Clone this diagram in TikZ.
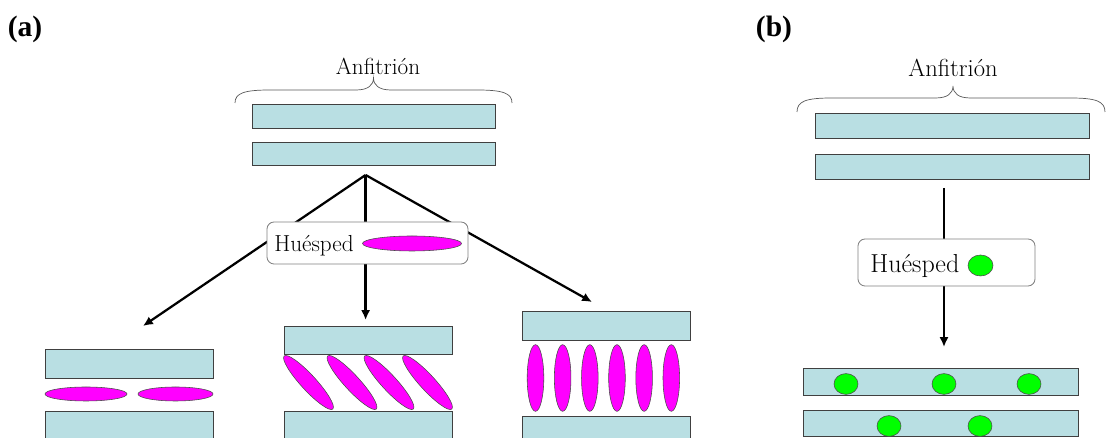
\documentclass[tikz,border=0pt]{standalone}
\usepackage{fontspec}
\newfontfamily\tagfont{Liberation Serif}
\usepackage{tikz}
\usetikzlibrary{arrows.meta,positioning}

\definecolor{hostfill}{HTML}{B9DFE3}
\definecolor{hostline}{HTML}{404040}
\definecolor{rodfill}{HTML}{FF00FF}
\definecolor{ballfill}{HTML}{00FF00}

\begin{document}
\begin{tikzpicture}[
  host/.style={draw=hostline,fill=hostfill,line width=0.6pt,inner sep=0pt,
    minimum width=4.2cm,minimum height=0.7cm},
  guestbox/.style={draw=black!50,fill=white,rounded corners=5pt,line width=0.6pt,inner sep=0pt},
  rod/.style={draw=black!70,fill=rodfill,line width=0.4pt},
  ball/.style={draw=black!70,fill=ballfill,line width=0.4pt},
  feed/.style={line width=1.6pt,-{Latex[length=7pt,width=6.5pt]}},
  hostbrace/.style={draw=black!65,line width=0.5pt},
  tag/.style={font=\tagfont\bfseries\fontsize{21}{23}\selectfont,inner sep=0pt},
  word/.style={inner sep=0pt,anchor=base}]
\clip (0,0) rectangle (27.65,10.95);

% ---- (a) ----
\node[tag] (taga) at (0.625,10.225) {(a)};
\node[word,font=\fontsize{16.5}{18}\selectfont] (hosta) at (9.45,9.075) {Anfitrión};
\draw[hostbrace] (5.875,8.375) .. controls (5.875,8.62) and (6.1,8.7) .. (6.75,8.7)
  -- (8.9,8.7) .. controls (9.2,8.7) and (9.3375,8.82) .. (9.3375,9.0)
  .. controls (9.3375,8.82) and (9.475,8.7) .. (9.775,8.7)
  -- (11.925,8.7) .. controls (12.575,8.7) and (12.8,8.62) .. (12.8,8.375);
\node[host,minimum width=6.075cm,minimum height=0.6cm] (plateA1) at (9.3375,8.05) {};
\node[host,minimum width=6.075cm,minimum height=0.575cm] (plateA2) at (9.3375,7.1125) {};

\coordinate (apex) at (9.14,6.575);
\coordinate (tipL) at (3.575,2.8);
\coordinate (tipM) at (9.14,2.95);
\coordinate (tipR) at (14.8,3.4);
\draw[feed] (apex) -- (tipL);
\draw[feed] (apex) -- (tipM);
\draw[feed] (apex) -- (tipR);

\node[guestbox,minimum width=5.025cm,minimum height=1.05cm] (guesta) at (9.1875,4.875) {};
\node[word,anchor=base west,font=\fontsize{16.5}{18}\selectfont] (guestTxtA) at (6.85,4.65) {Huésped};
\draw[rod] (10.3,4.8625) ellipse [x radius=1.2375cm,y radius=0.1875cm];

% lying flat
\node[host,minimum height=0.725cm] (flat1) at (3.225,1.8625) {};
\node[host,anchor=north,minimum height=1cm] (flat2) at (3.225,0.675) {};
\draw[rod] (2.15,1.1) ellipse [x radius=1.025cm,y radius=0.175cm];
\draw[rod] (4.3875,1.1) ellipse [x radius=0.9375cm,y radius=0.175cm];

% tilted
\node[host,minimum height=0.7cm] (tilt1) at (9.2,2.45) {};
\node[host,anchor=north,minimum height=1cm] (tilt2) at (9.2,0.675) {};
\foreach \x in {7.7125,8.8,9.725,10.6875}
  \draw[rod,rotate around={-47.5:(\x,1.3875)}] (\x,1.3875) ellipse [x radius=0.9cm,y radius=0.19cm];

% upright
\node[host,minimum height=0.725cm] (up1) at (15.15,2.8125) {};
\node[host,anchor=north,minimum height=1cm] (up2) at (15.15,0.55) {};
\foreach \i in {0,...,5}
  \draw[rod] (13.3875+0.679*\i,1.5) ellipse [x radius=0.2075cm,y radius=0.833cm];

% ---- (b) ----
\node[tag] (tagb) at (19.35,10.225) {(b)};
\node[word,font=\fontsize{17.5}{19}\selectfont] (hostb) at (23.825,9.025) {Anfitrión};
\draw[hostbrace] (19.925,8.15) .. controls (19.925,8.42) and (20.15,8.5) .. (20.8,8.5)
  -- (23.39,8.5) .. controls (23.69,8.5) and (23.825,8.62) .. (23.825,8.8)
  .. controls (23.825,8.62) and (23.96,8.5) .. (24.26,8.5)
  -- (26.75,8.5) .. controls (27.4,8.5) and (27.625,8.42) .. (27.625,8.15);
\node[host,minimum width=6.85cm,minimum height=0.625cm] (plateB1) at (23.8,7.8125) {};
\node[host,minimum width=6.85cm,minimum height=0.625cm] (plateB2) at (23.8,6.7875) {};

\coordinate (topB) at (23.6,6.25);
\coordinate (tipB) at (23.6,2.275);
\draw[feed] (topB) -- (tipB);

\node[guestbox,minimum width=4.425cm,minimum height=1.175cm] (guestb) at (23.6625,4.3875) {};
\node[word,anchor=base west,font=\fontsize{18.5}{20}\selectfont] (guestTxtB) at (21.75,4.125) {Huésped};
\draw[ball] (24.5125,4.3125) ellipse [x radius=0.3125cm,y radius=0.2625cm];

\node[host,minimum width=6.875cm,minimum height=0.675cm] (plateB3) at (23.5125,1.4125) {};
\node[host,minimum width=6.875cm,minimum height=0.65cm] (plateB4) at (23.5125,0.375) {};
\foreach \x in {21.15,23.6,25.725}
  \draw[ball] (\x,1.35) ellipse [x radius=0.3cm,y radius=0.26cm];
\foreach \x in {22.225,24.5}
  \draw[ball] (\x,0.3) ellipse [x radius=0.3cm,y radius=0.26cm];
\end{tikzpicture}
\end{document}
